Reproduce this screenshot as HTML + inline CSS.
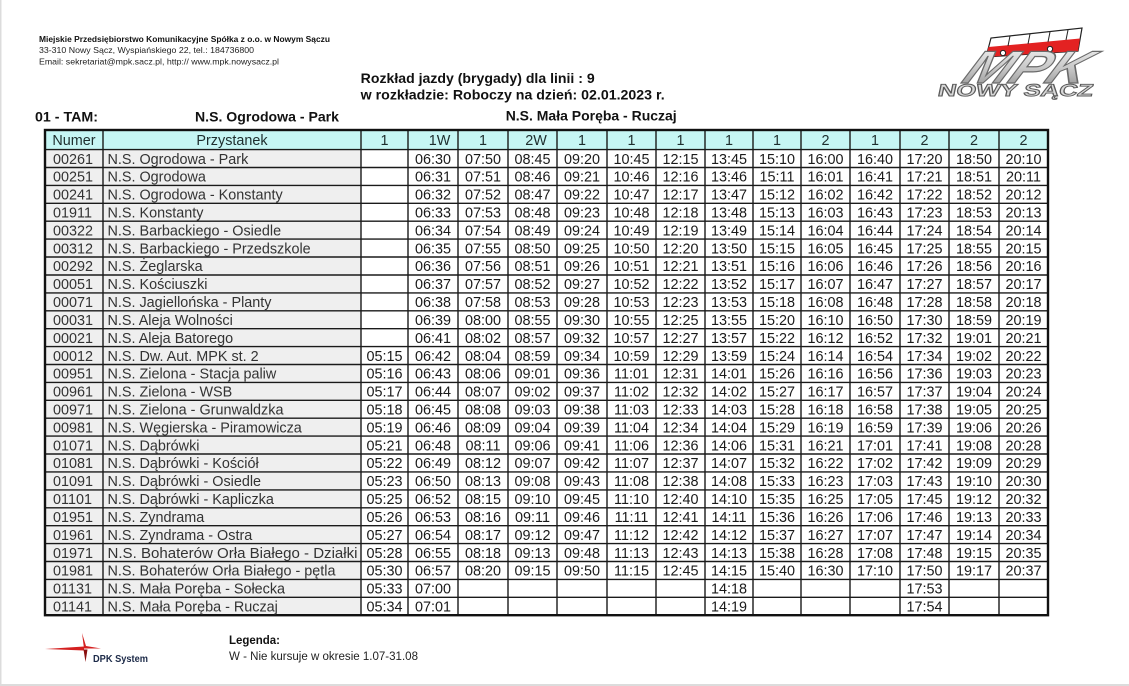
<!DOCTYPE html>
<html><head><meta charset="utf-8"><style>
html,body{margin:0;padding:0;background:#fff;}
svg{display:block;}
text{font-family:"Liberation Sans",Arial,sans-serif;}
.n{fill:#333;}
.t{fill:#1a1a1a;text-anchor:middle;}
</style></head><body>
<svg width="1129" height="686" viewBox="0 0 1129 686" xmlns="http://www.w3.org/2000/svg">
<defs>
<linearGradient id="silver" x1="0" y1="0" x2="0" y2="1">
<stop offset="0" stop-color="#f4f4f4"/><stop offset="0.5" stop-color="#c8c8c8"/><stop offset="1" stop-color="#8a8a8a"/>
</linearGradient>
</defs>
<rect x="0" y="0" width="1129" height="686" fill="#fff"/>
<rect x="0" y="0" width="1.5" height="686" fill="#dcdcdc"/>
<rect x="0" y="684" width="1129" height="2" fill="#dcdcdc"/>

<text x="39" y="42" font-size="8" font-weight="bold" fill="#111" textLength="291" lengthAdjust="spacingAndGlyphs">Miejskie Przedsiębiorstwo Komunikacyjne Spółka z o.o. w Nowym Sączu</text>
<text x="39" y="53" font-size="8.2" fill="#222" textLength="215" lengthAdjust="spacingAndGlyphs">33-310 Nowy Sącz, Wyspiańskiego 22, tel.: 184736800</text>
<text x="39" y="64.5" font-size="8.2" fill="#222" textLength="240" lengthAdjust="spacingAndGlyphs">Email: sekretariat@mpk.sacz.pl, http:// www.mpk.nowysacz.pl</text>

<text x="360.7" y="83" font-size="14" font-weight="bold" fill="#111" textLength="234" lengthAdjust="spacingAndGlyphs">Rozkład jazdy (brygady) dla linii : 9</text>
<text x="360.7" y="99.5" font-size="14" font-weight="bold" fill="#111" textLength="304" lengthAdjust="spacingAndGlyphs">w rozkładzie: Roboczy na dzień: 02.01.2023 r.</text>
<text x="35" y="121.5" font-size="14" font-weight="bold" fill="#111" textLength="63" lengthAdjust="spacingAndGlyphs">01 - TAM:</text>
<text x="195" y="121.5" font-size="14" font-weight="bold" fill="#111" textLength="144" lengthAdjust="spacingAndGlyphs">N.S. Ogrodowa - Park</text>
<text x="505.7" y="120.5" font-size="14" font-weight="bold" fill="#111" textLength="171" lengthAdjust="spacingAndGlyphs">N.S. Mała Poręba - Ruczaj</text>

<g>
<polygon points="986,57 991,38 1082,28 1078,51" fill="#fff" stroke="#222" stroke-width="1.2"/>
<polygon points="986,57 988.5,47 1080,38.5 1078,51" fill="#e32222"/>
<line x1="1010" y1="36" x2="1008" y2="46" stroke="#222" stroke-width="1"/>
<line x1="1030" y1="34" x2="1028" y2="44" stroke="#222" stroke-width="1"/>
<line x1="1050" y1="32" x2="1048" y2="42" stroke="#222" stroke-width="1"/>
<line x1="1068" y1="30" x2="1066" y2="40" stroke="#222" stroke-width="1"/>
<circle cx="1003" cy="53" r="2.6" fill="#fff" stroke="#222" stroke-width="1"/>
<circle cx="1050" cy="49" r="2.6" fill="#fff" stroke="#222" stroke-width="1"/>
<g transform="translate(960,83) skewX(-28)">
<text x="0" y="0" font-size="46" font-weight="bold" font-style="italic" fill="url(#silver)" stroke="#6a6a6a" stroke-width="1.2" textLength="122" lengthAdjust="spacingAndGlyphs">MPK</text>
</g>
<g transform="translate(937,96) skewX(-12)">
<text x="0" y="0" font-size="17" font-weight="bold" fill="#d8d8d8" stroke="#5a5a5a" stroke-width="0.9" textLength="155" lengthAdjust="spacingAndGlyphs">NOWY SĄCZ</text>
</g>
</g>

<rect x="45" y="130" width="1003" height="19.6" fill="#c6f6f4"/>
<rect x="45" y="149.6" width="316" height="465.6" fill="#efefef"/>

<g stroke="#1a1a1a" stroke-width="1.4">
<line x1="45" y1="149.6" x2="1048" y2="149.6"/>
<line x1="45" y1="167.5" x2="1048" y2="167.5"/>
<line x1="45" y1="185.4" x2="1048" y2="185.4"/>
<line x1="45" y1="203.3" x2="1048" y2="203.3"/>
<line x1="45" y1="221.2" x2="1048" y2="221.2"/>
<line x1="45" y1="239.1" x2="1048" y2="239.1"/>
<line x1="45" y1="257" x2="1048" y2="257"/>
<line x1="45" y1="275" x2="1048" y2="275"/>
<line x1="45" y1="292.9" x2="1048" y2="292.9"/>
<line x1="45" y1="310.8" x2="1048" y2="310.8"/>
<line x1="45" y1="328.7" x2="1048" y2="328.7"/>
<line x1="45" y1="346.6" x2="1048" y2="346.6"/>
<line x1="45" y1="364.5" x2="1048" y2="364.5"/>
<line x1="45" y1="382.4" x2="1048" y2="382.4"/>
<line x1="45" y1="400.3" x2="1048" y2="400.3"/>
<line x1="45" y1="418.2" x2="1048" y2="418.2"/>
<line x1="45" y1="436.1" x2="1048" y2="436.1"/>
<line x1="45" y1="454" x2="1048" y2="454"/>
<line x1="45" y1="471.9" x2="1048" y2="471.9"/>
<line x1="45" y1="489.9" x2="1048" y2="489.9"/>
<line x1="45" y1="507.8" x2="1048" y2="507.8"/>
<line x1="45" y1="525.7" x2="1048" y2="525.7"/>
<line x1="45" y1="543.6" x2="1048" y2="543.6"/>
<line x1="45" y1="561.5" x2="1048" y2="561.5"/>
<line x1="45" y1="579.4" x2="1048" y2="579.4"/>
<line x1="45" y1="597.3" x2="1048" y2="597.3"/>
<line x1="103" y1="130" x2="103" y2="615.2"/>
<line x1="361" y1="130" x2="361" y2="615.2"/>
<line x1="408" y1="130" x2="408" y2="615.2"/>
<line x1="458" y1="130" x2="458" y2="615.2"/>
<line x1="508" y1="130" x2="508" y2="615.2"/>
<line x1="557" y1="130" x2="557" y2="615.2"/>
<line x1="607" y1="130" x2="607" y2="615.2"/>
<line x1="656" y1="130" x2="656" y2="615.2"/>
<line x1="705" y1="130" x2="705" y2="615.2"/>
<line x1="753" y1="130" x2="753" y2="615.2"/>
<line x1="801" y1="130" x2="801" y2="615.2"/>
<line x1="850" y1="130" x2="850" y2="615.2"/>
<line x1="900" y1="130" x2="900" y2="615.2"/>
<line x1="949" y1="130" x2="949" y2="615.2"/>
<line x1="999" y1="130" x2="999" y2="615.2"/>
</g>
<rect x="45" y="130" width="1003" height="485.2" fill="none" stroke="#111" stroke-width="2.4"/>

<g font-size="14.4" fill="#1e2e2e" text-anchor="middle">
<text x="74" y="145">Numer</text>
<text x="232" y="145">Przystanek</text>
<text x="384.5" y="145">1</text>
<text x="439.5" y="145">1W</text>
<text x="483" y="145">1</text>
<text x="536" y="145">2W</text>
<text x="582" y="145">1</text>
<text x="631.5" y="145">1</text>
<text x="680.5" y="145">1</text>
<text x="729" y="145">1</text>
<text x="777" y="145">1</text>
<text x="825.5" y="145">2</text>
<text x="875" y="145">1</text>
<text x="924.5" y="145">2</text>
<text x="974" y="145">2</text>
<text x="1023.5" y="145">2</text>
</g>

<g font-size="14.4">
<g transform="translate(0,163.75)"><text class="n" x="53">00261</text><text class="n" x="107.5">N.S. Ogrodowa - Park</text><text class="t" x="433">06:30</text><text class="t" x="483">07:50</text><text class="t" x="532.5">08:45</text><text class="t" x="582">09:20</text><text class="t" x="631.5">10:45</text><text class="t" x="680.5">12:15</text><text class="t" x="729">13:45</text><text class="t" x="777">15:10</text><text class="t" x="825.5">16:00</text><text class="t" x="875">16:40</text><text class="t" x="924.5">17:20</text><text class="t" x="974">18:50</text><text class="t" x="1023.5">20:10</text></g>
<g transform="translate(0,181.65)"><text class="n" x="53">00251</text><text class="n" x="107.5">N.S. Ogrodowa</text><text class="t" x="433">06:31</text><text class="t" x="483">07:51</text><text class="t" x="532.5">08:46</text><text class="t" x="582">09:21</text><text class="t" x="631.5">10:46</text><text class="t" x="680.5">12:16</text><text class="t" x="729">13:46</text><text class="t" x="777">15:11</text><text class="t" x="825.5">16:01</text><text class="t" x="875">16:41</text><text class="t" x="924.5">17:21</text><text class="t" x="974">18:51</text><text class="t" x="1023.5">20:11</text></g>
<g transform="translate(0,199.55)"><text class="n" x="53">00241</text><text class="n" x="107.5">N.S. Ogrodowa - Konstanty</text><text class="t" x="433">06:32</text><text class="t" x="483">07:52</text><text class="t" x="532.5">08:47</text><text class="t" x="582">09:22</text><text class="t" x="631.5">10:47</text><text class="t" x="680.5">12:17</text><text class="t" x="729">13:47</text><text class="t" x="777">15:12</text><text class="t" x="825.5">16:02</text><text class="t" x="875">16:42</text><text class="t" x="924.5">17:22</text><text class="t" x="974">18:52</text><text class="t" x="1023.5">20:12</text></g>
<g transform="translate(0,217.45)"><text class="n" x="53">01911</text><text class="n" x="107.5">N.S. Konstanty</text><text class="t" x="433">06:33</text><text class="t" x="483">07:53</text><text class="t" x="532.5">08:48</text><text class="t" x="582">09:23</text><text class="t" x="631.5">10:48</text><text class="t" x="680.5">12:18</text><text class="t" x="729">13:48</text><text class="t" x="777">15:13</text><text class="t" x="825.5">16:03</text><text class="t" x="875">16:43</text><text class="t" x="924.5">17:23</text><text class="t" x="974">18:53</text><text class="t" x="1023.5">20:13</text></g>
<g transform="translate(0,235.35)"><text class="n" x="53">00322</text><text class="n" x="107.5">N.S. Barbackiego - Osiedle</text><text class="t" x="433">06:34</text><text class="t" x="483">07:54</text><text class="t" x="532.5">08:49</text><text class="t" x="582">09:24</text><text class="t" x="631.5">10:49</text><text class="t" x="680.5">12:19</text><text class="t" x="729">13:49</text><text class="t" x="777">15:14</text><text class="t" x="825.5">16:04</text><text class="t" x="875">16:44</text><text class="t" x="924.5">17:24</text><text class="t" x="974">18:54</text><text class="t" x="1023.5">20:14</text></g>
<g transform="translate(0,253.25)"><text class="n" x="53">00312</text><text class="n" x="107.5">N.S. Barbackiego - Przedszkole</text><text class="t" x="433">06:35</text><text class="t" x="483">07:55</text><text class="t" x="532.5">08:50</text><text class="t" x="582">09:25</text><text class="t" x="631.5">10:50</text><text class="t" x="680.5">12:20</text><text class="t" x="729">13:50</text><text class="t" x="777">15:15</text><text class="t" x="825.5">16:05</text><text class="t" x="875">16:45</text><text class="t" x="924.5">17:25</text><text class="t" x="974">18:55</text><text class="t" x="1023.5">20:15</text></g>
<g transform="translate(0,271.15)"><text class="n" x="53">00292</text><text class="n" x="107.5">N.S. Żeglarska</text><text class="t" x="433">06:36</text><text class="t" x="483">07:56</text><text class="t" x="532.5">08:51</text><text class="t" x="582">09:26</text><text class="t" x="631.5">10:51</text><text class="t" x="680.5">12:21</text><text class="t" x="729">13:51</text><text class="t" x="777">15:16</text><text class="t" x="825.5">16:06</text><text class="t" x="875">16:46</text><text class="t" x="924.5">17:26</text><text class="t" x="974">18:56</text><text class="t" x="1023.5">20:16</text></g>
<g transform="translate(0,289.1)"><text class="n" x="53">00051</text><text class="n" x="107.5">N.S. Kościuszki</text><text class="t" x="433">06:37</text><text class="t" x="483">07:57</text><text class="t" x="532.5">08:52</text><text class="t" x="582">09:27</text><text class="t" x="631.5">10:52</text><text class="t" x="680.5">12:22</text><text class="t" x="729">13:52</text><text class="t" x="777">15:17</text><text class="t" x="825.5">16:07</text><text class="t" x="875">16:47</text><text class="t" x="924.5">17:27</text><text class="t" x="974">18:57</text><text class="t" x="1023.5">20:17</text></g>
<g transform="translate(0,307)"><text class="n" x="53">00071</text><text class="n" x="107.5">N.S. Jagiellońska - Planty</text><text class="t" x="433">06:38</text><text class="t" x="483">07:58</text><text class="t" x="532.5">08:53</text><text class="t" x="582">09:28</text><text class="t" x="631.5">10:53</text><text class="t" x="680.5">12:23</text><text class="t" x="729">13:53</text><text class="t" x="777">15:18</text><text class="t" x="825.5">16:08</text><text class="t" x="875">16:48</text><text class="t" x="924.5">17:28</text><text class="t" x="974">18:58</text><text class="t" x="1023.5">20:18</text></g>
<g transform="translate(0,324.9)"><text class="n" x="53">00031</text><text class="n" x="107.5">N.S. Aleja Wolności</text><text class="t" x="433">06:39</text><text class="t" x="483">08:00</text><text class="t" x="532.5">08:55</text><text class="t" x="582">09:30</text><text class="t" x="631.5">10:55</text><text class="t" x="680.5">12:25</text><text class="t" x="729">13:55</text><text class="t" x="777">15:20</text><text class="t" x="825.5">16:10</text><text class="t" x="875">16:50</text><text class="t" x="924.5">17:30</text><text class="t" x="974">18:59</text><text class="t" x="1023.5">20:19</text></g>
<g transform="translate(0,342.85)"><text class="n" x="53">00021</text><text class="n" x="107.5">N.S. Aleja Batorego</text><text class="t" x="433">06:41</text><text class="t" x="483">08:02</text><text class="t" x="532.5">08:57</text><text class="t" x="582">09:32</text><text class="t" x="631.5">10:57</text><text class="t" x="680.5">12:27</text><text class="t" x="729">13:57</text><text class="t" x="777">15:22</text><text class="t" x="825.5">16:12</text><text class="t" x="875">16:52</text><text class="t" x="924.5">17:32</text><text class="t" x="974">19:01</text><text class="t" x="1023.5">20:21</text></g>
<g transform="translate(0,360.75)"><text class="n" x="53">00012</text><text class="n" x="107.5">N.S. Dw. Aut. MPK st. 2</text><text class="t" x="384.5">05:15</text><text class="t" x="433">06:42</text><text class="t" x="483">08:04</text><text class="t" x="532.5">08:59</text><text class="t" x="582">09:34</text><text class="t" x="631.5">10:59</text><text class="t" x="680.5">12:29</text><text class="t" x="729">13:59</text><text class="t" x="777">15:24</text><text class="t" x="825.5">16:14</text><text class="t" x="875">16:54</text><text class="t" x="924.5">17:34</text><text class="t" x="974">19:02</text><text class="t" x="1023.5">20:22</text></g>
<g transform="translate(0,378.65)"><text class="n" x="53">00951</text><text class="n" x="107.5">N.S. Zielona - Stacja paliw</text><text class="t" x="384.5">05:16</text><text class="t" x="433">06:43</text><text class="t" x="483">08:06</text><text class="t" x="532.5">09:01</text><text class="t" x="582">09:36</text><text class="t" x="631.5">11:01</text><text class="t" x="680.5">12:31</text><text class="t" x="729">14:01</text><text class="t" x="777">15:26</text><text class="t" x="825.5">16:16</text><text class="t" x="875">16:56</text><text class="t" x="924.5">17:36</text><text class="t" x="974">19:03</text><text class="t" x="1023.5">20:23</text></g>
<g transform="translate(0,396.55)"><text class="n" x="53">00961</text><text class="n" x="107.5">N.S. Zielona - WSB</text><text class="t" x="384.5">05:17</text><text class="t" x="433">06:44</text><text class="t" x="483">08:07</text><text class="t" x="532.5">09:02</text><text class="t" x="582">09:37</text><text class="t" x="631.5">11:02</text><text class="t" x="680.5">12:32</text><text class="t" x="729">14:02</text><text class="t" x="777">15:27</text><text class="t" x="825.5">16:17</text><text class="t" x="875">16:57</text><text class="t" x="924.5">17:37</text><text class="t" x="974">19:04</text><text class="t" x="1023.5">20:24</text></g>
<g transform="translate(0,414.45)"><text class="n" x="53">00971</text><text class="n" x="107.5">N.S. Zielona - Grunwaldzka</text><text class="t" x="384.5">05:18</text><text class="t" x="433">06:45</text><text class="t" x="483">08:08</text><text class="t" x="532.5">09:03</text><text class="t" x="582">09:38</text><text class="t" x="631.5">11:03</text><text class="t" x="680.5">12:33</text><text class="t" x="729">14:03</text><text class="t" x="777">15:28</text><text class="t" x="825.5">16:18</text><text class="t" x="875">16:58</text><text class="t" x="924.5">17:38</text><text class="t" x="974">19:05</text><text class="t" x="1023.5">20:25</text></g>
<g transform="translate(0,432.35)"><text class="n" x="53">00981</text><text class="n" x="107.5">N.S. Węgierska - Piramowicza</text><text class="t" x="384.5">05:19</text><text class="t" x="433">06:46</text><text class="t" x="483">08:09</text><text class="t" x="532.5">09:04</text><text class="t" x="582">09:39</text><text class="t" x="631.5">11:04</text><text class="t" x="680.5">12:34</text><text class="t" x="729">14:04</text><text class="t" x="777">15:29</text><text class="t" x="825.5">16:19</text><text class="t" x="875">16:59</text><text class="t" x="924.5">17:39</text><text class="t" x="974">19:06</text><text class="t" x="1023.5">20:26</text></g>
<g transform="translate(0,450.25)"><text class="n" x="53">01071</text><text class="n" x="107.5">N.S. Dąbrówki</text><text class="t" x="384.5">05:21</text><text class="t" x="433">06:48</text><text class="t" x="483">08:11</text><text class="t" x="532.5">09:06</text><text class="t" x="582">09:41</text><text class="t" x="631.5">11:06</text><text class="t" x="680.5">12:36</text><text class="t" x="729">14:06</text><text class="t" x="777">15:31</text><text class="t" x="825.5">16:21</text><text class="t" x="875">17:01</text><text class="t" x="924.5">17:41</text><text class="t" x="974">19:08</text><text class="t" x="1023.5">20:28</text></g>
<g transform="translate(0,468.15)"><text class="n" x="53">01081</text><text class="n" x="107.5">N.S. Dąbrówki - Kościół</text><text class="t" x="384.5">05:22</text><text class="t" x="433">06:49</text><text class="t" x="483">08:12</text><text class="t" x="532.5">09:07</text><text class="t" x="582">09:42</text><text class="t" x="631.5">11:07</text><text class="t" x="680.5">12:37</text><text class="t" x="729">14:07</text><text class="t" x="777">15:32</text><text class="t" x="825.5">16:22</text><text class="t" x="875">17:02</text><text class="t" x="924.5">17:42</text><text class="t" x="974">19:09</text><text class="t" x="1023.5">20:29</text></g>
<g transform="translate(0,486.05)"><text class="n" x="53">01091</text><text class="n" x="107.5">N.S. Dąbrówki - Osiedle</text><text class="t" x="384.5">05:23</text><text class="t" x="433">06:50</text><text class="t" x="483">08:13</text><text class="t" x="532.5">09:08</text><text class="t" x="582">09:43</text><text class="t" x="631.5">11:08</text><text class="t" x="680.5">12:38</text><text class="t" x="729">14:08</text><text class="t" x="777">15:33</text><text class="t" x="825.5">16:23</text><text class="t" x="875">17:03</text><text class="t" x="924.5">17:43</text><text class="t" x="974">19:10</text><text class="t" x="1023.5">20:30</text></g>
<g transform="translate(0,504.05)"><text class="n" x="53">01101</text><text class="n" x="107.5">N.S. Dąbrówki - Kapliczka</text><text class="t" x="384.5">05:25</text><text class="t" x="433">06:52</text><text class="t" x="483">08:15</text><text class="t" x="532.5">09:10</text><text class="t" x="582">09:45</text><text class="t" x="631.5">11:10</text><text class="t" x="680.5">12:40</text><text class="t" x="729">14:10</text><text class="t" x="777">15:35</text><text class="t" x="825.5">16:25</text><text class="t" x="875">17:05</text><text class="t" x="924.5">17:45</text><text class="t" x="974">19:12</text><text class="t" x="1023.5">20:32</text></g>
<g transform="translate(0,521.95)"><text class="n" x="53">01951</text><text class="n" x="107.5">N.S. Zyndrama</text><text class="t" x="384.5">05:26</text><text class="t" x="433">06:53</text><text class="t" x="483">08:16</text><text class="t" x="532.5">09:11</text><text class="t" x="582">09:46</text><text class="t" x="631.5">11:11</text><text class="t" x="680.5">12:41</text><text class="t" x="729">14:11</text><text class="t" x="777">15:36</text><text class="t" x="825.5">16:26</text><text class="t" x="875">17:06</text><text class="t" x="924.5">17:46</text><text class="t" x="974">19:13</text><text class="t" x="1023.5">20:33</text></g>
<g transform="translate(0,539.85)"><text class="n" x="53">01961</text><text class="n" x="107.5">N.S. Zyndrama - Ostra</text><text class="t" x="384.5">05:27</text><text class="t" x="433">06:54</text><text class="t" x="483">08:17</text><text class="t" x="532.5">09:12</text><text class="t" x="582">09:47</text><text class="t" x="631.5">11:12</text><text class="t" x="680.5">12:42</text><text class="t" x="729">14:12</text><text class="t" x="777">15:37</text><text class="t" x="825.5">16:27</text><text class="t" x="875">17:07</text><text class="t" x="924.5">17:47</text><text class="t" x="974">19:14</text><text class="t" x="1023.5">20:34</text></g>
<g transform="translate(0,557.75)"><text class="n" x="53">01971</text><text class="n" x="107.5" textLength="250" lengthAdjust="spacingAndGlyphs">N.S. Bohaterów Orła Białego - Działki</text><text class="t" x="384.5">05:28</text><text class="t" x="433">06:55</text><text class="t" x="483">08:18</text><text class="t" x="532.5">09:13</text><text class="t" x="582">09:48</text><text class="t" x="631.5">11:13</text><text class="t" x="680.5">12:43</text><text class="t" x="729">14:13</text><text class="t" x="777">15:38</text><text class="t" x="825.5">16:28</text><text class="t" x="875">17:08</text><text class="t" x="924.5">17:48</text><text class="t" x="974">19:15</text><text class="t" x="1023.5">20:35</text></g>
<g transform="translate(0,575.65)"><text class="n" x="53">01981</text><text class="n" x="107.5">N.S. Bohaterów Orła Białego - pętla</text><text class="t" x="384.5">05:30</text><text class="t" x="433">06:57</text><text class="t" x="483">08:20</text><text class="t" x="532.5">09:15</text><text class="t" x="582">09:50</text><text class="t" x="631.5">11:15</text><text class="t" x="680.5">12:45</text><text class="t" x="729">14:15</text><text class="t" x="777">15:40</text><text class="t" x="825.5">16:30</text><text class="t" x="875">17:10</text><text class="t" x="924.5">17:50</text><text class="t" x="974">19:17</text><text class="t" x="1023.5">20:37</text></g>
<g transform="translate(0,593.55)"><text class="n" x="53">01131</text><text class="n" x="107.5">N.S. Mała Poręba - Sołecka</text><text class="t" x="384.5">05:33</text><text class="t" x="433">07:00</text><text class="t" x="729">14:18</text><text class="t" x="924.5">17:53</text></g>
<g transform="translate(0,611.45)"><text class="n" x="53">01141</text><text class="n" x="107.5">N.S. Mała Poręba - Ruczaj</text><text class="t" x="384.5">05:34</text><text class="t" x="433">07:01</text><text class="t" x="729">14:19</text><text class="t" x="924.5">17:54</text></g>
</g>

<!-- DPK System logo -->
<g>
<polygon points="45,649 84,646.5 84,650.5" fill="#d42020"/>
<polygon points="82,633 86,646 101,648.5 84,648.5" fill="#d42020"/>
<polygon points="83.5,649.5 87.5,649.5 85.5,662" fill="#8a1010"/>
<text x="93" y="662" font-size="10" font-weight="bold" fill="#1c2a48" textLength="55" lengthAdjust="spacingAndGlyphs">DPK System</text>
</g>

<!-- legend -->
<text x="229" y="644" font-size="11.5" font-weight="bold" fill="#111" textLength="51" lengthAdjust="spacingAndGlyphs">Legenda:</text>
<text x="229" y="660" font-size="11.5" fill="#222" textLength="189" lengthAdjust="spacingAndGlyphs">W - Nie kursuje w okresie 1.07-31.08</text>
</svg>
</body></html>
